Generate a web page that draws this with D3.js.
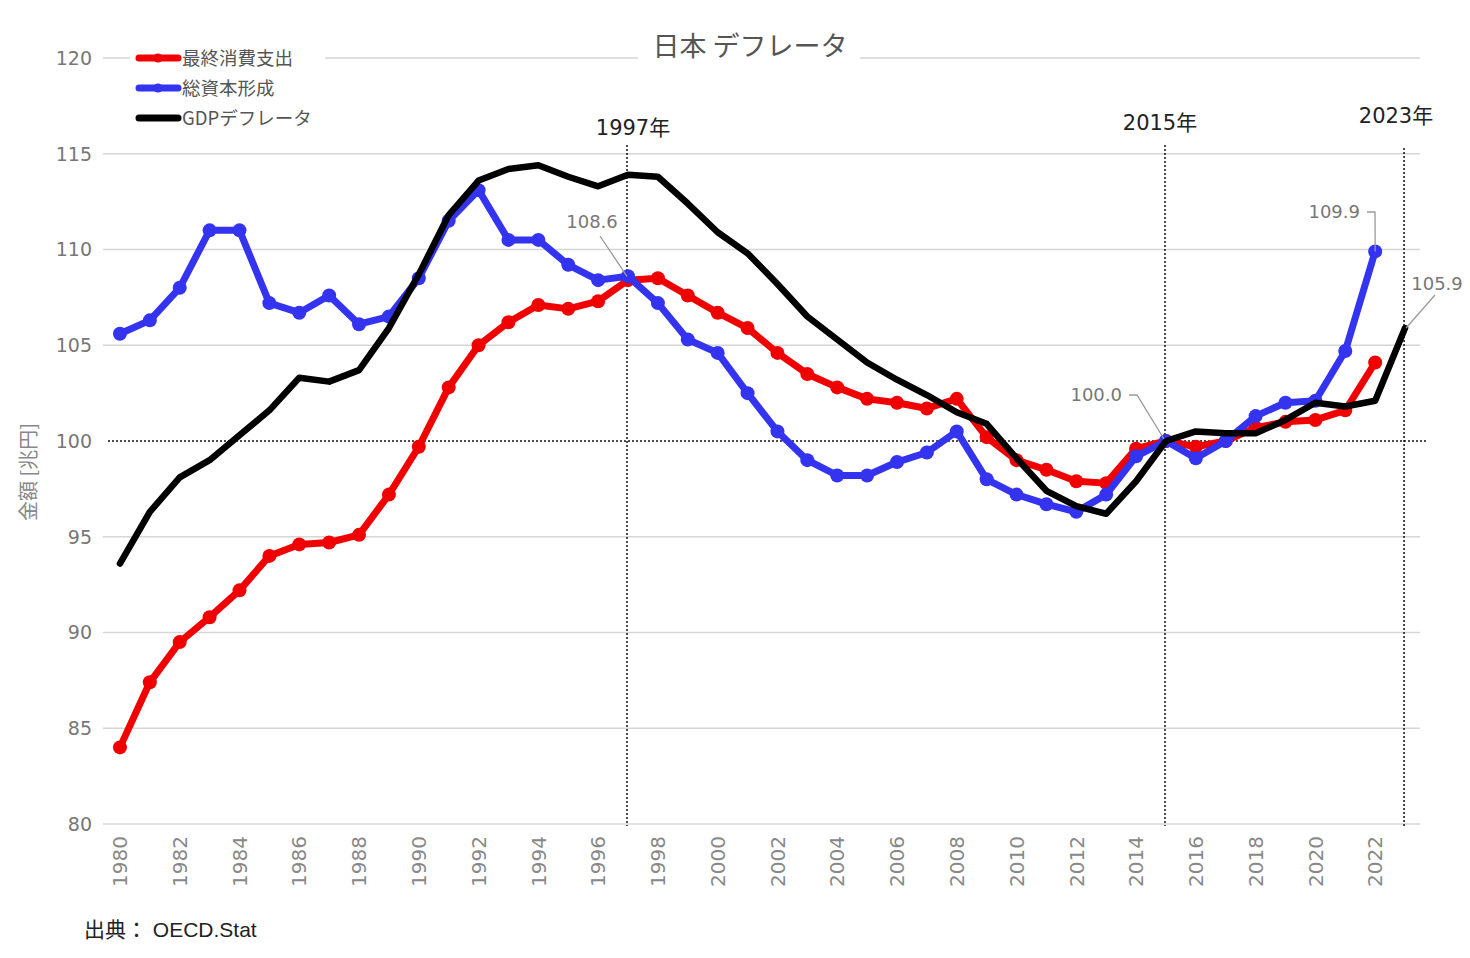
<!DOCTYPE html>
<html><head><meta charset="utf-8">
<script src="https://cdn.jsdelivr.net/npm/d3@7"></script>
<style>
html,body{margin:0;padding:0;background:#fff;}
svg{display:block;font-family:"DejaVu Sans","Noto Sans CJK JP",sans-serif;}
.cjk{font-family:"Noto Sans CJK JP","Noto Sans",sans-serif;}
</style></head><body>
<svg id="chart" width="1470" height="958"></svg>
<script>
const years = d3.range(1980, 2024);
const consumption = [84.0,87.4,89.5,90.8,92.2,94.0,94.6,94.7,95.1,97.2,99.7,102.8,105.0,106.2,107.1,106.9,107.3,108.4,108.5,107.6,106.7,105.9,104.6,103.5,102.8,102.2,102.0,101.7,102.2,100.2,99.0,98.5,97.9,97.8,99.6,100.0,99.7,100.0,100.7,101.0,101.1,101.6,104.1];
const capital = [105.6,106.3,108.0,111.0,111.0,107.2,106.7,107.6,106.1,106.5,108.5,111.5,113.1,110.5,110.5,109.2,108.4,108.6,107.2,105.3,104.6,102.5,100.5,99.0,98.2,98.2,98.9,99.4,100.5,98.0,97.2,96.7,96.3,97.2,99.2,100.0,99.1,100.0,101.3,102.0,102.1,104.7,109.9];
const gdpDeflator = [93.6,96.3,98.1,99.0,100.3,101.6,103.3,103.1,103.7,105.9,108.7,111.8,113.6,114.2,114.4,113.8,113.3,113.9,113.8,112.4,110.9,109.8,108.2,106.5,105.3,104.1,103.2,102.4,101.5,100.9,99.1,97.4,96.6,96.2,97.9,100.0,100.5,100.4,100.4,101.1,102.0,101.8,102.1,105.9];
const yTicks = [80,85,90,95,100,105,110,115,120];
const markerYears = [1997, 2015, 2023];
const seriesNames = ["最終消費支出","総資本形成","GDPデフレータ"];
const seriesColors = ["#f00000","#3333f0","#000000"];
const annotations = [
  {year:1997, value:108.6, text:"108.6"},
  {year:2015, value:100.0, text:"100.0"},
  {year:2022, value:109.9, text:"109.9"},
  {year:2023, value:105.9, text:"105.9"}
];

const svg = d3.select("#chart");
const x = d3.scaleBand().domain(years).range([105, 1420]);
const xc = yr => x(yr) + x.bandwidth()/2;
const y = d3.scaleLinear().domain([80,120]).range([824, 58]);

// gridlines
svg.append("g").selectAll("line").data(yTicks.filter(v=>v!==100)).join("line")
  .attr("x1",103).attr("x2",1420).attr("y1",d=>y(d)).attr("y2",d=>y(d))
  .attr("stroke","#d6d6d6").attr("stroke-width",1.5);

// y tick labels
svg.append("g").selectAll("text").data(yTicks).join("text")
  .attr("x",92).attr("y",d=>y(d)).attr("dy","0.36em").attr("text-anchor","end")
  .attr("fill","#777").attr("font-size",19).text(d=>d);

// y label
svg.append("text").attr("class","cjk").attr("transform","translate(29,472) rotate(-90)")
  .attr("text-anchor","middle").attr("dy","0.35em").attr("fill","#888").attr("font-size",20).text("金額 [兆円]");

// x tick labels
svg.append("g").selectAll("text").data(years.filter(d=>d%2===0 && d<=2022)).join("text")
  .attr("transform",d=>`translate(${xc(d)},836) rotate(-90)`)
  .attr("text-anchor","end").attr("dy","0.36em").attr("fill","#888").attr("font-size",20).text(d=>d);

// 100 line dotted
svg.append("line").attr("x1",108).attr("x2",1428).attr("y1",y(100)).attr("y2",y(100))
  .attr("stroke","#111").attr("stroke-width",1.5).attr("stroke-dasharray","2,2");

// vertical markers
const vTop = {1997:145, 2015:145, 2023:148};
svg.append("g").selectAll("line").data(markerYears).join("line")
  .attr("x1",d=>xc(d)-1).attr("x2",d=>xc(d)-1).attr("y1",d=>vTop[d]).attr("y2",826)
  .attr("stroke","#111").attr("stroke-width",1.5).attr("stroke-dasharray","2,2");
const vLab = {1997:[633,127],2015:[1160,122],2023:[1396,115]};
svg.append("g").selectAll("text").data(markerYears).join("text")
  .attr("x",d=>vLab[d][0]).attr("y",d=>vLab[d][1]).attr("dy","0.36em").attr("text-anchor","middle")
  .attr("fill","#222").attr("font-size",21).text(d=>d+"年");

// title with white background
svg.append("rect").attr("x",638).attr("y",40).attr("width",222).attr("height",30).attr("fill","#fff");
svg.append("text").attr("class","cjk").attr("x",750).attr("y",46).attr("dy","0.36em").attr("text-anchor","middle")
  .attr("fill","#555").attr("font-size",27).text("日本 デフレータ");

// legend
svg.append("rect").attr("x",130).attr("y",45).attr("width",195).attr("height",26).attr("fill","#fff");
const lg = svg.append("g");
seriesNames.forEach((n,i)=>{
  const yy = 58 + i*30;
  lg.append("line").attr("x1",139).attr("x2",178).attr("y1",yy).attr("y2",yy)
    .attr("stroke",seriesColors[i]).attr("stroke-width",7).attr("stroke-linecap","round");
  if(i<2) lg.append("circle").attr("cx",158).attr("cy",yy).attr("r",4.5).attr("fill",seriesColors[i]);
  lg.append("text").attr("class","cjk").attr("x",182).attr("y",yy).attr("dy","0.36em").attr("fill","#555").attr("font-size",18.5).text(n);
});

// lines
const line = d3.line().x(d=>xc(d.year)).y(d=>y(d.v));
const mk = arr => arr.map((v,i)=>({year:years[i], v}));
const dC = mk(consumption), dK = mk(capital), dG = mk(gdpDeflator);

function drawSeries(data, color, width, markers){
  svg.append("path").datum(data).attr("d",line).attr("fill","none")
    .attr("stroke",color).attr("stroke-width",width).attr("stroke-linejoin","round").attr("stroke-linecap","round");
  if(markers) svg.append("g").selectAll("circle").data(data).join("circle")
    .attr("cx",d=>xc(d.year)).attr("cy",d=>y(d.v)).attr("r",7).attr("fill",color);
}
drawSeries(dC, seriesColors[0], 7, true);
drawSeries(dK, seriesColors[1], 7, true);
drawSeries(dG, seriesColors[2], 6.5, false);

// annotations
const ann = svg.append("g");
const leaderPts = {
  1997: a => [[600,236],[xc(1997)-1,y(a.value)]],
  2015: a => [[1129,395],[1137,395],[xc(2015)-2,y(a.value)-2]],
  2022: a => [[1367,212],[1375,212],[xc(2022),y(a.value)]],
  2023: a => [[1435,295],[xc(2023)+1,y(a.value)]]
};
const labelPos = {1997:[592,222,"middle"],2015:[1122,395,"end"],2022:[1360,212,"end"],2023:[1437,284,"middle"]};
annotations.forEach(a=>{
  ann.append("path").attr("d",d3.line()(leaderPts[a.year](a))).attr("fill","none")
    .attr("stroke","#999").attr("stroke-width",1.3);
  const p = labelPos[a.year];
  ann.append("text").attr("x",p[0]).attr("y",p[1]).attr("dy","0.36em").attr("text-anchor",p[2])
    .attr("fill","#777").attr("font-size",18).text(a.text);
});

// source
svg.append("text").attr("x",84).attr("y",929).attr("dy","0.36em").attr("fill","#222")
  .attr("font-family","'Liberation Sans','Noto Sans CJK JP',sans-serif")
  .attr("font-size",21).text("出典： OECD.Stat");
</script>
</body></html>
